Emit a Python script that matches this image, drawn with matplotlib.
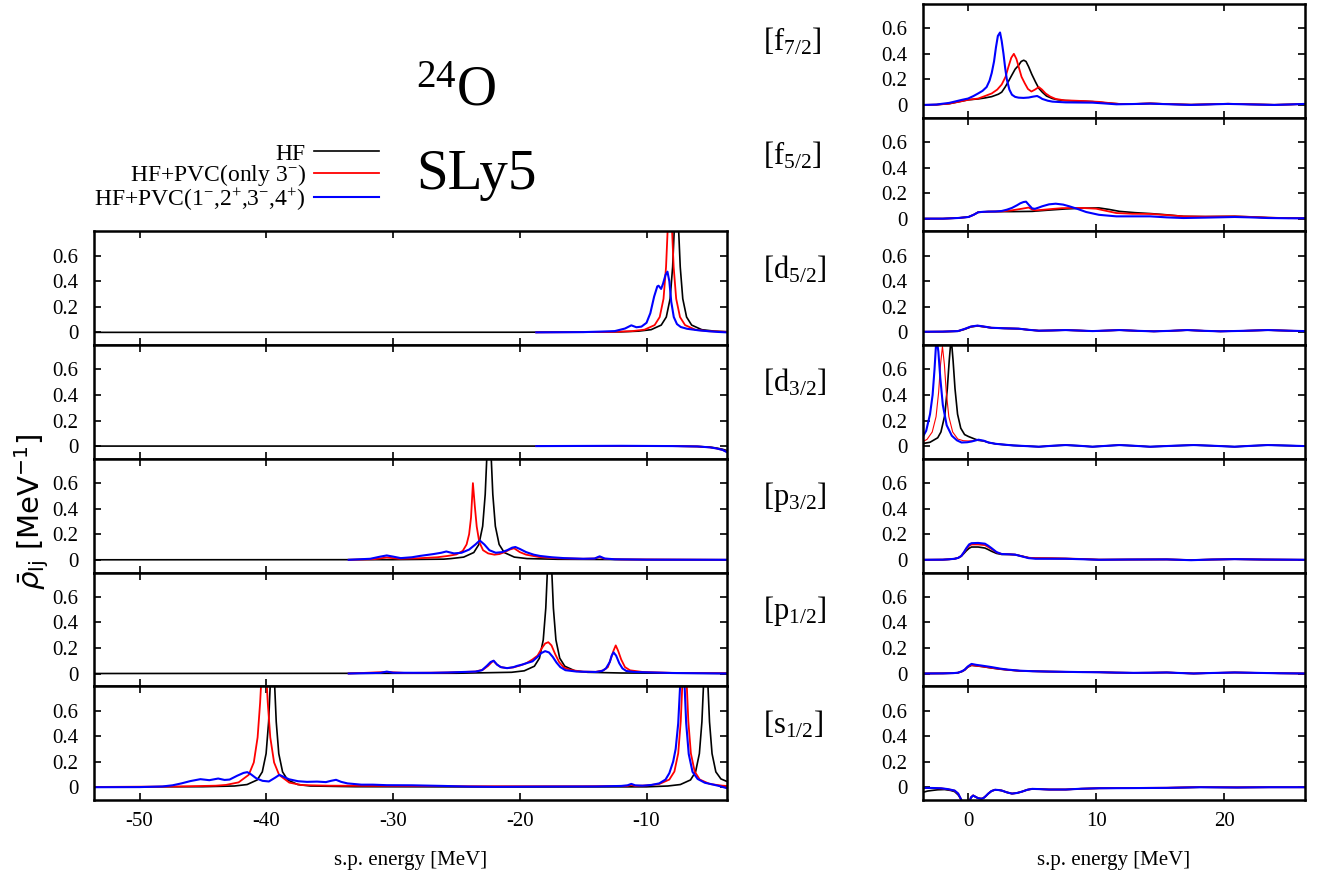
import matplotlib
matplotlib.use('Agg')
import matplotlib.pyplot as plt
from matplotlib.ticker import FixedLocator, FixedFormatter

plt.rcParams['font.family'] = ['Liberation Serif', 'DejaVu Serif']
plt.rcParams['mathtext.fontset'] = 'custom'
plt.rcParams['mathtext.rm'] = 'Liberation Serif'
plt.rcParams['mathtext.it'] = 'Liberation Serif:italic'
plt.rcParams['mathtext.bf'] = 'Liberation Serif:bold'
plt.rcParams['axes.unicode_minus'] = False

# ---------------- data (x [MeV], rho [1/MeV]) ----------------
series_labels = ['HF', 'HF+PVC(only 3$^{-}$)', 'HF+PVC(1$^{-}$,2$^{+}$,3$^{-}$,4$^{+}$)']
right_labels = ['[f$_{7/2}$]', '[f$_{5/2}$]', '[d$_{5/2}$]', '[d$_{3/2}$]',
                '[p$_{3/2}$]', '[p$_{1/2}$]', '[s$_{1/2}$]']
ytick_vals = [0, 0.2, 0.4, 0.6]
ytick_text = ['0', '0.2', '0.4', '0.6']
left_xticks = [-50, -40, -30, -20, -10]
right_xticks = [0, 10, 20]

# ---- left column (bound region) ----
d52L_hf = [(-53.6, 0), (-20, 0.001), (-12, 0.004), (-10.64, 0.0095), (-9.64, 0.021), (-8.84, 0.057),
           (-8.44, 0.12), (-8.14, 0.263), (-7.94, 0.512), (-7.79, 0.855), (-7.64, 1.1), (-7.49, 0.855),
           (-7.34, 0.512), (-7.14, 0.263), (-6.84, 0.12), (-6.44, 0.057), (-5.64, 0.021), (-4.64, 0.0095),
           (-3.65, 0.005)]
d52L_r3 = [(-18.7, 0), (-13, 0.003), (-11.16, 0.0095), (-10.16, 0.021), (-9.36, 0.057), (-8.96, 0.12),
           (-8.66, 0.263), (-8.46, 0.512), (-8.31, 0.855), (-8.16, 1.1), (-8.01, 0.855), (-7.86, 0.512),
           (-7.66, 0.263), (-7.36, 0.12), (-6.96, 0.057), (-6.16, 0.021), (-5.16, 0.0095), (-3.65, 0.004)]
d52L_all = [(-18.7, 0), (-15, 0.002), (-13.6, 0.006), (-12.5, 0.01), (-11.7, 0.03), (-11.2, 0.055),
            (-10.8, 0.04), (-10.4, 0.045), (-10.0, 0.075), (-9.7, 0.15), (-9.4, 0.28), (-9.15, 0.36),
            (-9.05, 0.365), (-8.85, 0.34), (-8.7, 0.38), (-8.5, 0.45), (-8.35, 0.475), (-8.2, 0.4),
            (-8.05, 0.24), (-7.85, 0.12), (-7.6, 0.065), (-7.3, 0.042), (-6.8, 0.028), (-5.9, 0.016),
            (-5.0, 0.008), (-4.3, 0.003), (-3.65, 0.0)]

d32L_hf = [(-53.6, 0), (-8, 0), (-6, -0.003), (-5, -0.008), (-4.5, -0.015), (-4, -0.025), (-3.65, -0.035)]
d32L_r3 = [(-18.7, 0), (-8, 0.0), (-6, -0.003), (-5, -0.01), (-4.5, -0.018), (-4, -0.03), (-3.65, -0.045)]
d32L_all = [(-18.7, 0), (-12, 0.002), (-8, 0.0), (-6, -0.003), (-5, -0.01), (-4.5, -0.018), (-4, -0.03),
            (-3.65, -0.048)]

p32L_hf = [(-53.6, 0), (-30, 0.001), (-26, 0.005), (-25.43, 0.0095), (-24.43, 0.021), (-23.63, 0.057),
           (-23.23, 0.12), (-22.93, 0.263), (-22.73, 0.512), (-22.58, 0.855), (-22.43, 1.1), (-22.28, 0.855),
           (-22.13, 0.512), (-21.93, 0.263), (-21.63, 0.12), (-21.23, 0.057), (-20.43, 0.021),
           (-19.43, 0.0095), (-17, 0.004), (-10, 0.001), (-3.65, 0)]
p32L_r3 = [(-33.5, 0), (-31.5, 0.005), (-30.5, 0.018), (-29.5, 0.008), (-28, 0.012), (-26.5, 0.02),
           (-25.7, 0.03), (-25, 0.042), (-24.5, 0.07), (-24.2, 0.12), (-24.0, 0.2), (-23.85, 0.33),
           (-23.7, 0.6), (-23.55, 0.42), (-23.4, 0.26), (-23.2, 0.14), (-22.9, 0.075), (-22.5, 0.05),
           (-22.0, 0.04), (-21.6, 0.045), (-21.2, 0.06), (-20.8, 0.08), (-20.45, 0.09), (-20.0, 0.06),
           (-19.5, 0.04), (-18.5, 0.022), (-17, 0.012), (-15, 0.008), (-14.1, 0.01), (-13.7, 0.022),
           (-13.3, 0.008), (-12, 0.003), (-3.65, 0)]
p32L_all = [(-33.5, 0), (-31.8, 0.008), (-31, 0.025), (-30.5, 0.034), (-30.0, 0.025), (-29.4, 0.013),
            (-28.5, 0.02), (-27.9, 0.03), (-26.8, 0.045), (-26.2, 0.055), (-25.8, 0.065), (-25.2, 0.05),
            (-24.6, 0.055), (-24.0, 0.08), (-23.5, 0.12), (-23.16, 0.151), (-22.8, 0.12), (-22.4, 0.075),
            (-21.9, 0.055), (-21.4, 0.06), (-21.0, 0.075), (-20.6, 0.095), (-20.35, 0.1), (-20.0, 0.085),
            (-19.5, 0.06), (-18.9, 0.04), (-18.4, 0.03), (-17.5, 0.02), (-16.5, 0.013), (-15, 0.008),
            (-14.1, 0.01), (-13.7, 0.027), (-13.3, 0.01), (-12.5, 0.004), (-10, 0.001), (-3.65, 0)]

p12L_hf = [(-53.6, 0), (-25, 0.002), (-20.65, 0.0095), (-19.65, 0.021), (-18.85, 0.057), (-18.45, 0.12),
           (-18.15, 0.263), (-17.95, 0.512), (-17.8, 0.855), (-17.65, 1.1), (-17.5, 0.855), (-17.35, 0.512),
           (-17.15, 0.263), (-16.85, 0.12), (-16.45, 0.057), (-15.65, 0.021), (-14.65, 0.0095),
           (-12, 0.004), (-3.65, 0.001)]
p12L_r3 = [(-33.5, 0), (-30.5, 0.012), (-29, 0.004), (-25.7, 0.008), (-23.5, 0.015), (-22.9, 0.03),
           (-22.5, 0.06), (-22.1, 0.1), (-21.8, 0.07), (-21.5, 0.05), (-21.0, 0.042), (-20.5, 0.048),
           (-20.0, 0.062), (-19.5, 0.08), (-19.0, 0.11), (-18.6, 0.14), (-18.25, 0.2), (-18.0, 0.235),
           (-17.75, 0.245), (-17.5, 0.22), (-17.2, 0.15), (-16.9, 0.09), (-16.5, 0.045), (-16.0, 0.028),
           (-15.1, 0.015), (-14, 0.013), (-13.4, 0.025), (-13.05, 0.05), (-12.8, 0.12), (-12.6, 0.18),
           (-12.43, 0.22), (-12.25, 0.18), (-12.0, 0.11), (-11.7, 0.05), (-11.3, 0.025), (-10.3, 0.012),
           (-8, 0.005), (-3.65, 0.002)]
p12L_all = [(-33.5, 0), (-31, 0.005), (-30.5, 0.015), (-30, 0.006), (-27, 0.005), (-25.7, 0.008),
            (-23.5, 0.015), (-23.0, 0.025), (-22.6, 0.06), (-22.3, 0.09), (-22.06, 0.1), (-21.8, 0.07),
            (-21.5, 0.05), (-21.0, 0.042), (-20.5, 0.05), (-20.2, 0.06), (-19.8, 0.07), (-19.5, 0.08),
            (-19.0, 0.095), (-18.6, 0.13), (-18.3, 0.16), (-18.0, 0.175), (-17.7, 0.165), (-17.4, 0.13),
            (-17.1, 0.085), (-16.8, 0.05), (-16.4, 0.026), (-15.5, 0.015), (-14, 0.012), (-13.5, 0.02),
            (-13.2, 0.04), (-12.9, 0.09), (-12.75, 0.14), (-12.6, 0.165), (-12.4, 0.14), (-12.15, 0.08),
            (-11.9, 0.04), (-11.6, 0.02), (-11, 0.012), (-8, 0.004), (-3.65, 0)]

s12L_hf = [(-53.6, 0.002), (-45, 0.004), (-42.52, 0.0095), (-41.52, 0.021), (-40.72, 0.057), (-40.32, 0.12),
           (-40.02, 0.263), (-39.82, 0.512), (-39.67, 0.855), (-39.52, 1.1), (-39.37, 0.855), (-39.22, 0.512),
           (-39.02, 0.263), (-38.72, 0.12), (-38.32, 0.057), (-37.52, 0.021), (-36.52, 0.0095), (-33, 0.004),
           (-20, 0.002), (-10, 0.003), (-8.33, 0.0095), (-7.33, 0.021), (-6.53, 0.057), (-6.13, 0.12),
           (-5.83, 0.263), (-5.63, 0.512), (-5.48, 0.855), (-5.33, 1.1), (-5.18, 0.855), (-5.03, 0.512),
           (-4.83, 0.263), (-4.53, 0.12), (-4.13, 0.065), (-3.65, 0.045)]
s12L_r3 = [(-53.6, 0.002), (-47, 0.006), (-44, 0.012), (-43.19, 0.018), (-42.19, 0.038), (-41.39, 0.097),
           (-40.99, 0.194), (-40.69, 0.39), (-40.49, 0.664), (-40.34, 0.945), (-40.19, 1.1), (-40.04, 0.945),
           (-39.89, 0.664), (-39.69, 0.39), (-39.39, 0.194), (-38.99, 0.096), (-38.19, 0.036),
           (-37.19, 0.0165), (-35, 0.012), (-30, 0.01), (-25, 0.008), (-20, 0.008), (-15, 0.008),
           (-11.5, 0.01), (-11.2, 0.018), (-10.9, 0.01), (-10, 0.014), (-9.0, 0.025), (-8.2, 0.06),
           (-7.8, 0.123), (-7.5, 0.265), (-7.3, 0.515), (-7.15, 0.86), (-7.0, 1.1), (-6.85, 0.86),
           (-6.7, 0.515), (-6.5, 0.265), (-6.2, 0.123), (-5.8, 0.06), (-5.0, 0.025), (-4.0, 0.012),
           (-3.65, 0.01)]
s12L_all = [(-53.6, 0.0), (-50, 0.001), (-48.2, 0.006), (-47.4, 0.015), (-46.7, 0.03), (-46.0, 0.048),
            (-45.2, 0.063), (-44.5, 0.055), (-43.8, 0.068), (-43.3, 0.057), (-42.9, 0.06), (-42.3, 0.09),
            (-41.8, 0.112), (-41.5, 0.118), (-41.2, 0.1), (-40.8, 0.07), (-40.3, 0.05), (-39.8, 0.045),
            (-39.3, 0.075), (-38.97, 0.097), (-38.6, 0.08), (-38.2, 0.062), (-37.5, 0.047), (-36.8, 0.042),
            (-36.0, 0.044), (-35.3, 0.04), (-34.9, 0.05), (-34.5, 0.058), (-34.1, 0.042), (-33.6, 0.03),
            (-32.5, 0.02), (-31.6, 0.02), (-30.5, 0.016), (-28.5, 0.015), (-26, 0.01), (-24, 0.005),
            (-22, 0.003), (-18, 0.005), (-14, 0.006), (-12, 0.01), (-11.5, 0.015), (-11.2, 0.026),
            (-10.9, 0.015), (-10.3, 0.012), (-9.6, 0.018), (-9.0, 0.03), (-8.5, 0.06), (-8.2, 0.11),
            (-7.9, 0.2), (-7.7, 0.3), (-7.5, 0.5), (-7.32, 0.85), (-7.17, 1.1), (-7.02, 0.85), (-6.87, 0.5),
            (-6.67, 0.26), (-6.37, 0.12), (-5.97, 0.065), (-5.4, 0.035), (-4.8, 0.022), (-4.2, 0.008),
            (-3.65, -0.008)]

# ---- right column (continuum region) ----
f72R_hf = [(-3.55, 0.0), (-2.5, 0.002), (-1.5, 0.01), (-0.5, 0.03), (-0.03, 0.04), (0.76, 0.047), (1.3, 0.055),
           (1.82, 0.065), (2.34, 0.084), (2.6, 0.1), (2.87, 0.14), (3.13, 0.185), (3.4, 0.235), (3.65, 0.28),
           (3.92, 0.31), (4.12, 0.34), (4.32, 0.35), (4.5, 0.34), (4.7, 0.3), (4.95, 0.24), (5.24, 0.18),
           (5.5, 0.13), (5.77, 0.1), (6.1, 0.07), (6.56, 0.05), (7.0, 0.04), (7.6, 0.034), (8.6, 0.03),
           (9.7, 0.026), (10.8, 0.015), (11.8, 0.008), (13, 0.008), (14.2, 0.012), (15.8, 0.006),
           (17.4, 0.002), (18.8, 0.005), (20.3, 0.009), (22, 0.005), (23.9, 0.001), (25.2, 0.004), (26.3, 0.008)]
f72R_r3 = [(-3.55, 0.0), (-2.5, 0.002), (-1.5, 0.01), (-0.5, 0.03), (-0.03, 0.04), (0.76, 0.05), (1.3, 0.07),
           (1.82, 0.09), (2.25, 0.12), (2.6, 0.16), (2.9, 0.22), (3.13, 0.3), (3.35, 0.37), (3.55, 0.4),
           (3.75, 0.36), (3.92, 0.3), (4.15, 0.22), (4.4, 0.17), (4.65, 0.125), (4.92, 0.105), (5.2, 0.12),
           (5.5, 0.14), (5.75, 0.12), (6.03, 0.09), (6.4, 0.065), (6.82, 0.047), (7.5, 0.036), (8.14, 0.034),
           (9.1, 0.03), (10.2, 0.024), (11, 0.015), (11.8, 0.008), (13, 0.008), (14.2, 0.012), (15.8, 0.006),
           (17.4, 0.002), (18.8, 0.005), (20.3, 0.009), (22, 0.005), (23.9, 0.001), (25.2, 0.004), (26.3, 0.008)]
f72R_all = [(-3.55, 0.0), (-2.5, 0.003), (-2.14, 0.008), (-1.5, 0.016), (-1.08, 0.026), (-0.5, 0.04),
            (-0.03, 0.05), (0.4, 0.07), (0.76, 0.09), (1.1, 0.11), (1.42, 0.14), (1.65, 0.19), (1.82, 0.25),
            (2.0, 0.34), (2.15, 0.45), (2.3, 0.54), (2.47, 0.567), (2.6, 0.5), (2.74, 0.4), (2.87, 0.29),
            (3.0, 0.2), (3.2, 0.12), (3.4, 0.08), (3.65, 0.063), (3.92, 0.057), (4.3, 0.055), (4.71, 0.058),
            (5.05, 0.065), (5.37, 0.07), (5.6, 0.058), (5.77, 0.047), (6.2, 0.033), (6.56, 0.026), (7.6, 0.02),
            (8.6, 0.019), (9.7, 0.018), (10.6, 0.012), (11.56, 0.005), (12.8, 0.007), (14.2, 0.01),
            (15.8, 0.005), (17.36, 0.0), (18.8, 0.004), (20.26, 0.008), (22, 0.004), (23.9, 0.0),
            (25.2, 0.004), (26.3, 0.008)]

f52R_hf = [(-3.55, 0.0), (-2, 0.0), (-0.82, 0.005), (0, 0.013), (0.4, 0.03), (0.76, 0.05), (1.55, 0.055),
           (2.6, 0.055), (3.4, 0.055), (4.98, 0.057), (6.3, 0.067), (7.6, 0.076), (9.0, 0.082), (10.2, 0.084),
           (11.0, 0.072), (11.8, 0.057), (13, 0.047), (14.2, 0.04), (15.5, 0.03), (16.8, 0.018), (18.5, 0.016),
           (20.8, 0.018), (22, 0.014), (23.4, 0.008), (25, 0.004), (26.3, 0.003)]
f52R_r3 = [(-3.55, 0.0), (-2, 0.0), (-0.82, 0.005), (0, 0.013), (0.4, 0.03), (0.76, 0.05), (1.55, 0.055),
           (2.6, 0.057), (3.4, 0.065), (4.2, 0.078), (4.71, 0.087), (5.0, 0.07), (5.24, 0.065), (5.9, 0.07),
           (6.56, 0.076), (7.3, 0.082), (8.14, 0.084), (9.0, 0.083), (9.98, 0.078), (10.8, 0.06),
           (11.56, 0.044), (12.8, 0.038), (14.2, 0.037), (15.5, 0.028), (16.8, 0.018), (18.5, 0.016),
           (20.8, 0.018), (22, 0.014), (23.4, 0.008), (25, 0.004), (26.3, 0.003)]
f52R_all = [(-3.55, 0.0), (-2, 0.0), (-0.82, 0.005), (0, 0.013), (0.4, 0.03), (0.76, 0.05), (1.2, 0.054),
            (1.55, 0.055), (2.1, 0.056), (2.6, 0.06), (3.0, 0.07), (3.4, 0.084), (3.8, 0.105), (4.05, 0.12),
            (4.3, 0.13), (4.5, 0.133), (4.7, 0.11), (4.98, 0.08), (5.2, 0.077), (5.5, 0.087), (5.77, 0.097),
            (6.3, 0.112), (6.82, 0.117), (7.4, 0.11), (7.87, 0.097), (8.5, 0.077), (9.2, 0.052), (10.2, 0.03),
            (11.56, 0.018), (13, 0.018), (14.2, 0.018), (15.5, 0.01), (16.8, 0.005), (18.5, 0.008),
            (20.8, 0.013), (22, 0.01), (23.4, 0.005), (25, 0.003), (26.3, 0.003)]

d52R_hf = [(-3.55, 0.004), (-2, 0.005), (-0.82, 0.009), (-0.3, 0.024), (0.2, 0.043), (0.71, 0.05), (1.2, 0.044),
           (1.8, 0.035), (2.8, 0.031), (3.92, 0.028), (4.7, 0.02), (5.5, 0.013), (6.5, 0.015), (7.6, 0.018),
           (8.7, 0.014), (9.7, 0.01), (10.8, 0.014), (11.8, 0.018), (13.2, 0.012), (14.5, 0.008), (15.8, 0.012),
           (17.1, 0.018), (18.4, 0.012), (19.7, 0.008), (21.5, 0.012), (23.4, 0.018), (25, 0.013), (26.3, 0.01)]
d52R_r3 = [(-3.55, 0.005), (-2, 0.006), (-0.82, 0.01), (-0.3, 0.026), (0.2, 0.045), (0.71, 0.052), (1.2, 0.045),
           (1.8, 0.036), (2.8, 0.032), (3.92, 0.029), (4.7, 0.02), (5.5, 0.013), (6.5, 0.015), (7.6, 0.018),
           (8.7, 0.014), (9.7, 0.01), (10.8, 0.014), (11.8, 0.018), (13.2, 0.012), (14.5, 0.008), (15.8, 0.012),
           (17.1, 0.018), (18.4, 0.012), (19.7, 0.008), (21.5, 0.012), (23.4, 0.018), (25, 0.013), (26.3, 0.01)]
d52R_all = [(-3.55, 0.005), (-2, 0.006), (-0.82, 0.01), (-0.3, 0.027), (0.2, 0.046), (0.71, 0.053),
            (1.2, 0.046), (1.8, 0.036), (2.8, 0.032), (3.92, 0.029), (4.7, 0.02), (5.5, 0.013), (6.5, 0.015),
            (7.6, 0.018), (8.7, 0.014), (9.7, 0.01), (10.8, 0.014), (11.8, 0.018), (13.2, 0.012),
            (14.5, 0.008), (15.8, 0.012), (17.1, 0.018), (18.4, 0.012), (19.7, 0.008), (21.5, 0.012),
            (23.4, 0.018), (25, 0.013), (26.3, 0.01)]

d32R_hf = [(-3.55, 0.02), (-3.0, 0.03), (-2.4, 0.065), (-2.15, 0.11), (-1.85, 0.24), (-1.65, 0.45),
           (-1.5, 0.67), (-1.35, 0.85), (-1.2, 0.67), (-1.05, 0.45), (-0.85, 0.25), (-0.6, 0.14), (-0.3, 0.09),
           (0.0, 0.075), (0.25, 0.065), (0.5, 0.055), (0.78, 0.045), (1.2, 0.04), (1.57, 0.028), (2.1, 0.018),
           (2.6, 0.013), (3.5, 0.005), (4.5, 0.0), (5.5, -0.005), (6.5, 0.002), (7.6, 0.008), (8.7, 0.002),
           (9.7, -0.005), (10.8, 0.002), (11.8, 0.008), (13, 0.002), (14.2, -0.005), (15.9, 0.002),
           (17.6, 0.008), (19.2, 0.002), (20.8, -0.005), (22.1, 0.002), (23.4, 0.008), (24.9, 0.004), (26.3, 0.0)]
d32R_r3 = [(-3.55, 0.035), (-3.23, 0.053), (-2.83, 0.11), (-2.53, 0.23), (-2.33, 0.42), (-2.18, 0.64),
           (-2.03, 0.78), (-1.88, 0.64), (-1.73, 0.42), (-1.53, 0.23), (-1.23, 0.11), (-0.83, 0.055),
           (-0.4, 0.042), (0.0, 0.04), (0.4, 0.042), (0.78, 0.047), (1.2, 0.04), (1.57, 0.027), (2.1, 0.018),
           (2.6, 0.013), (3.5, 0.005), (4.5, 0.0), (5.5, -0.005), (6.5, 0.002), (7.6, 0.008), (8.7, 0.002),
           (9.7, -0.005), (10.8, 0.002), (11.8, 0.008), (13, 0.002), (14.2, -0.005), (15.9, 0.002),
           (17.6, 0.008), (19.2, 0.002), (20.8, -0.005), (22.1, 0.002), (23.4, 0.008), (24.9, 0.004), (26.3, 0.0)]
d32R_all = [(-3.55, 0.075), (-3.3, 0.12), (-3.0, 0.25), (-2.8, 0.4), (-2.65, 0.6), (-2.5, 0.85), (-2.35, 0.74),
            (-2.2, 0.534), (-2.0, 0.321), (-1.7, 0.163), (-1.3, 0.081), (-0.9, 0.045), (-0.54, 0.028),
            (-0.1, 0.03), (0.25, 0.036), (0.78, 0.05), (1.2, 0.042), (1.57, 0.028), (2.1, 0.018), (2.6, 0.013),
            (3.5, 0.005), (4.5, 0.0), (5.5, -0.005), (6.5, 0.002), (7.6, 0.008), (8.7, 0.002), (9.7, -0.005),
            (10.8, 0.002), (11.8, 0.008), (13, 0.002), (14.2, -0.005), (15.9, 0.002), (17.6, 0.008),
            (19.2, 0.002), (20.8, -0.005), (22.1, 0.002), (23.4, 0.008), (24.9, 0.004), (26.3, 0.0)]

p32R_hf = [(-3.55, 0.0), (-2, 0.001), (-1.5, 0.004), (-1.08, 0.008), (-0.8, 0.015), (-0.56, 0.028),
           (-0.35, 0.05), (-0.17, 0.07), (0.05, 0.09), (0.24, 0.1), (0.76, 0.1), (1.29, 0.092), (1.55, 0.08),
           (1.82, 0.066), (2.2, 0.05), (2.6, 0.042), (3.2, 0.042), (3.66, 0.04), (4.2, 0.028), (4.7, 0.016),
           (5.24, 0.012), (6.5, 0.011), (7.6, 0.009), (9, 0.005), (10.2, 0.001), (12.5, 0.002), (15.5, 0.003),
           (17.4, -0.002), (19, 0.002), (20.8, 0.005), (23, 0.002), (26.3, 0.0)]
p32R_r3 = [(-3.55, 0.0), (-2, 0.001), (-1.5, 0.004), (-1.08, 0.008), (-0.8, 0.015), (-0.56, 0.03),
           (-0.35, 0.058), (-0.17, 0.085), (0.05, 0.11), (0.24, 0.12), (0.76, 0.12), (1.29, 0.115),
           (1.55, 0.1), (1.82, 0.084), (2.2, 0.058), (2.6, 0.045), (3.2, 0.043), (3.66, 0.04), (4.2, 0.027),
           (4.7, 0.016), (5.24, 0.013), (6.5, 0.012), (7.6, 0.01), (9, 0.006), (10.2, 0.001), (12.5, 0.002),
           (15.5, 0.003), (17.4, -0.002), (19, 0.002), (20.8, 0.005), (23, 0.002), (26.3, 0.0)]
p32R_all = [(-3.55, 0.0), (-2, 0.001), (-1.5, 0.004), (-1.08, 0.008), (-0.8, 0.015), (-0.56, 0.03),
            (-0.35, 0.06), (-0.17, 0.09), (0.05, 0.12), (0.24, 0.13), (0.76, 0.132), (1.29, 0.126),
            (1.55, 0.11), (1.82, 0.09), (2.2, 0.06), (2.6, 0.045), (3.2, 0.043), (3.66, 0.04), (4.2, 0.026),
            (4.7, 0.013), (5.24, 0.008), (6.5, 0.008), (7.6, 0.008), (9, 0.004), (10.2, 0.0), (12.5, 0.002),
            (15.5, 0.003), (17.4, -0.003), (19, 0.002), (20.8, 0.005), (23, 0.002), (26.3, 0.0)]

p12R_hf = [(-3.55, 0.0), (-2, 0.001), (-1.2, 0.003), (-0.82, 0.006), (-0.5, 0.016), (-0.3, 0.027),
           (-0.05, 0.05), (0.24, 0.064), (0.6, 0.06), (1.03, 0.055), (1.5, 0.048), (1.82, 0.043), (2.5, 0.034),
           (3.13, 0.028), (4.0, 0.021), (4.98, 0.018), (6.3, 0.015), (7.6, 0.013), (8.9, 0.011), (10.2, 0.01),
           (11.5, 0.007), (12.9, 0.005), (14.2, 0.006), (15.5, 0.008), (16.5, 0.004), (17.6, 0.0),
           (19, 0.004), (20.8, 0.008), (22.5, 0.005), (24.3, 0.002), (26.3, 0.0)]
p12R_r3 = [(-3.55, 0.0), (-2, 0.001), (-1.2, 0.003), (-0.82, 0.006), (-0.5, 0.017), (-0.3, 0.028),
           (-0.05, 0.052), (0.24, 0.066), (0.6, 0.061), (1.03, 0.056), (1.5, 0.049), (1.82, 0.044),
           (2.5, 0.035), (3.13, 0.028), (4.0, 0.021), (4.98, 0.018), (6.3, 0.015), (7.6, 0.013), (8.9, 0.011),
           (10.2, 0.01), (11.5, 0.007), (12.9, 0.005), (14.2, 0.006), (15.5, 0.008), (16.5, 0.004),
           (17.6, 0.0), (19, 0.004), (20.8, 0.008), (22.5, 0.005), (24.3, 0.002), (26.3, 0.0)]
p12R_all = [(-3.55, 0.0), (-2, 0.001), (-1.2, 0.003), (-0.82, 0.006), (-0.5, 0.018), (-0.3, 0.03),
            (-0.05, 0.055), (0.24, 0.075), (0.6, 0.068), (1.03, 0.062), (1.5, 0.055), (1.82, 0.05),
            (2.5, 0.038), (3.13, 0.03), (4.0, 0.022), (4.98, 0.018), (6.3, 0.015), (7.6, 0.013), (8.9, 0.011),
            (10.2, 0.01), (11.5, 0.007), (12.9, 0.005), (14.2, 0.006), (15.5, 0.008), (16.5, 0.004),
            (17.6, 0.0), (19, 0.004), (20.8, 0.008), (22.5, 0.005), (24.3, 0.002), (26.3, 0.0)]

s12R_hf = [(-3.55, -0.04), (-3.2, -0.03), (-2.9, -0.026), (-2.4, -0.02), (-1.87, -0.018), (-1.4, -0.025),
           (-1.08, -0.034), (-0.8, -0.06), (-0.6, -0.09), (-0.43, -0.13), (-0.2, -0.15), (0.05, -0.12),
           (0.2, -0.08), (0.37, -0.065), (0.55, -0.075), (0.76, -0.086), (1.0, -0.09), (1.16, -0.086),
           (1.35, -0.07), (1.55, -0.05), (1.8, -0.03), (2.08, -0.02), (2.35, -0.022), (2.6, -0.026),
           (3.0, -0.04), (3.4, -0.05), (3.8, -0.045), (4.2, -0.034), (4.6, -0.02), (4.98, -0.013),
           (5.6, -0.015), (6.3, -0.018), (7.0, -0.018), (7.6, -0.018), (8.8, -0.012), (10.2, -0.008),
           (12.5, -0.007), (15.5, -0.005), (18.1, 0.0), (21, -0.002), (23.5, 0.0), (26.3, 0.0)]
s12R_r3 = [(-3.55, -0.006), (-2.8, -0.007), (-2.14, -0.009), (-1.6, -0.016), (-1.08, -0.027), (-0.8, -0.05),
           (-0.6, -0.09), (-0.43, -0.13), (-0.2, -0.15), (0.05, -0.12), (0.2, -0.08), (0.37, -0.064),
           (0.55, -0.075), (0.76, -0.086), (1.0, -0.09), (1.16, -0.086), (1.35, -0.07), (1.55, -0.05),
           (1.8, -0.03), (2.08, -0.02), (2.35, -0.022), (2.6, -0.026), (3.0, -0.04), (3.4, -0.05),
           (3.8, -0.045), (4.2, -0.034), (4.6, -0.02), (4.98, -0.013), (5.6, -0.015), (6.3, -0.018),
           (7.0, -0.018), (7.6, -0.018), (8.8, -0.012), (10.2, -0.008), (12.5, -0.006), (15.5, -0.004),
           (18.1, 0.001), (21, -0.001), (23.5, 0.0), (26.3, 0.0)]
s12R_all = [(-3.55, -0.005), (-2.8, -0.006), (-2.14, -0.008), (-1.6, -0.015), (-1.08, -0.026), (-0.8, -0.05),
            (-0.6, -0.09), (-0.43, -0.13), (-0.2, -0.15), (0.05, -0.12), (0.2, -0.08), (0.37, -0.065),
            (0.55, -0.075), (0.76, -0.086), (1.0, -0.09), (1.16, -0.086), (1.35, -0.07), (1.55, -0.05),
            (1.8, -0.03), (2.08, -0.02), (2.35, -0.022), (2.6, -0.026), (3.0, -0.04), (3.4, -0.05),
            (3.8, -0.045), (4.2, -0.034), (4.6, -0.02), (4.98, -0.013), (5.6, -0.015), (6.3, -0.018),
            (7.0, -0.018), (7.6, -0.018), (8.8, -0.012), (10.2, -0.008), (12.5, -0.007), (15.5, -0.005),
            (18.1, 0.0), (21, -0.002), (23.5, 0.0), (26.3, 0.0)]

left_panels = [(2, d52L_hf, d52L_r3, d52L_all), (3, d32L_hf, d32L_r3, d32L_all),
               (4, p32L_hf, p32L_r3, p32L_all), (5, p12L_hf, p12L_r3, p12L_all),
               (6, s12L_hf, s12L_r3, s12L_all)]
right_panels = [(0, f72R_hf, f72R_r3, f72R_all), (1, f52R_hf, f52R_r3, f52R_all),
                (2, d52R_hf, d52R_r3, d52R_all), (3, d32R_hf, d32R_r3, d32R_all),
                (4, p32R_hf, p32R_r3, p32R_all), (5, p12R_hf, p12R_r3, p12R_all),
                (6, s12R_hf, s12R_r3, s12R_all)]

# ---------------- layout ----------------
W, H = 1324, 875
fig = plt.figure(figsize=(W / 100, H / 100), dpi=100)
TOP, BOT, NROW = 4.0, 800.0, 7
RH = (BOT - TOP) / NROW
LX0, LX1 = 94, 727
RX0, RX1 = 923, 1305
LXLIM = (-53.6, -3.65)
RXLIM = (-3.55, 26.3)
YLIM = (-0.1, 0.79)
FS = 15
COLORS = ['black', '#ff0000', '#0000ff']
LWS = [1.2, 1.3, 1.5]


def make_ax(x0, x1, row):
    ytop = TOP + row * RH
    return fig.add_axes([x0 / W, 1 - (ytop + RH) / H, (x1 - x0) / W, RH / H])


def style(ax, xlim, xticks, bottom):
    ax.set_xlim(*xlim)
    ax.set_ylim(*YLIM)
    ax.xaxis.set_major_locator(FixedLocator(xticks))
    ax.yaxis.set_major_locator(FixedLocator(ytick_vals))
    ax.yaxis.set_major_formatter(FixedFormatter(ytick_text))
    ax.tick_params(direction='in', top=True, right=True, length=5, width=1.2,
                   labelsize=FS, pad=9, labelbottom=bottom)
    ax.tick_params(axis='y', pad=11)
    for s in ax.spines.values():
        s.set_linewidth(1.8)


def draw(ax, sets, thin_red=False):
    lines = []
    for k, (data, c, lw) in enumerate(zip(sets, COLORS, LWS)):
        xs = [p[0] for p in data]
        ys = [p[1] for p in data]
        if thin_red and k == 1:
            lw = 0.8
        ln, = ax.plot(xs, ys, color=c, lw=lw, solid_joinstyle='round')
        lines.append(ln)
    return lines


legend_handles = None
for row, hf, r3, al in left_panels:
    ax = make_ax(LX0, LX1, row)
    lines = draw(ax, [hf, r3, al])
    if legend_handles is None:
        legend_handles = lines
    style(ax, LXLIM, left_xticks, row == NROW - 1)
    if row == NROW - 1:
        ax.set_xlabel('s.p. energy [MeV]', fontsize=FS, labelpad=14)

for row, hf, r3, al in right_panels:
    ax = make_ax(RX0, RX1, row)
    draw(ax, [hf, r3, al], thin_red=(row == 3))
    style(ax, RXLIM, right_xticks, row == NROW - 1)
    ax.text(-0.42, 1 - 38 / RH, right_labels[row], transform=ax.transAxes,
            fontsize=22, ha='left', va='center')
    if row == NROW - 1:
        ax.set_xlabel('s.p. energy [MeV]', fontsize=FS, labelpad=14)

fig.legend(legend_handles, series_labels, loc='upper right',
           bbox_to_anchor=(379 / W, 1 - 143 / H), frameon=False, markerfirst=False,
           handlelength=2.75, handletextpad=0.35, labelspacing=-0.09, fontsize=17,
           borderpad=0, borderaxespad=0)

fig.text(416 / W, 1 - 105 / H, r'$^{24}$O', fontsize=40, ha='left', va='baseline')
fig.text(416 / W, 1 - 189 / H, 'SLy5', fontsize=41, ha='left', va='baseline')
fig.text(32 / W, 1 - 512 / H, r'$\bar{\rho}_{\rm lj}$ [MeV$^{-1}$]', rotation=90,
         ha='center', va='center', fontsize=21, family='DejaVu Sans', math_fontfamily='dejavusans')

fig.savefig('out.png', dpi=100)
